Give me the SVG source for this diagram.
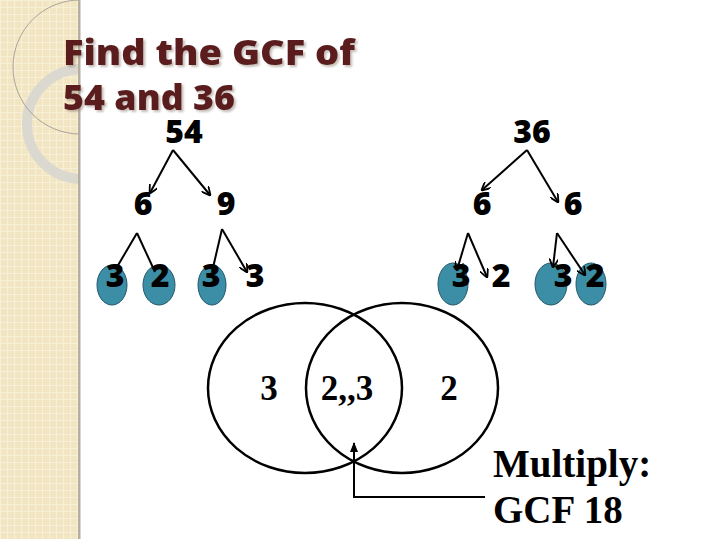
<svg xmlns="http://www.w3.org/2000/svg" width="720" height="539" viewBox="0 0 720 539">
<defs>
<pattern id="grid" width="7" height="7" patternUnits="userSpaceOnUse">
<rect width="7" height="7" fill="#f2e5c2"/>
<path d="M0 0.5H7M0.5 0V7" stroke="#f8efd9" stroke-width="1.2"/>
</pattern>
<clipPath id="strip"><rect x="0" y="0" width="80" height="539"/></clipPath>
<filter id="ts" x="-5%" y="-20%" width="110%" height="140%">
<feDropShadow dx="2" dy="2" stdDeviation="1" flood-color="#8a7a70" flood-opacity="0.5"/>
</filter>
<marker id="ah" viewBox="0 0 10 10" refX="9" refY="5" markerWidth="9" markerHeight="9" orient="auto" markerUnits="userSpaceOnUse">
<path d="M0 0L10 5L0 10" fill="none" stroke="#000" stroke-width="2"/>
</marker>
<marker id="up" viewBox="0 0 10 10" refX="9" refY="5" markerWidth="10" markerHeight="10" orient="auto" markerUnits="userSpaceOnUse">
<path d="M0 1L10 5L0 9z" fill="#000"/>
</marker>
</defs>
<style>
.title{font-family:"Open Sans","Lato",sans-serif;font-weight:800;font-size:35px;fill:#5a1c1c}
.num{font-family:"Open Sans","DejaVu Sans",sans-serif;font-weight:800;font-size:32px;fill:#000;text-anchor:middle}
.venn{font-family:"Liberation Serif","Times New Roman",serif;font-weight:bold;font-size:35px;fill:#000;text-anchor:middle}
.note{font-family:"Liberation Serif","Times New Roman",serif;font-weight:bold;font-size:39px;fill:#000}
.conn{stroke:#000;stroke-width:2;fill:none}
.oval{fill:#3b8ea6;stroke:#25596a;stroke-width:1}
.circ{fill:none;stroke:#000;stroke-width:2.5}
</style>
<rect width="720" height="539" fill="#ffffff"/>
<g id="sidebar">
<rect x="0" y="0" width="80" height="539" fill="url(#grid)"/>
<g clip-path="url(#strip)">
<circle cx="82" cy="124" r="55" fill="none" stroke="#dbd8d0" stroke-width="10"/>
<circle cx="80" cy="67" r="67" fill="none" stroke="#a9a49a" stroke-width="1"/>
</g>
<rect x="78" y="0" width="2.5" height="539" fill="#b5aea0"/>
</g>
<g id="title" filter="url(#ts)">
<text class="title" x="63" y="65" textLength="292" lengthAdjust="spacingAndGlyphs">Find the GCF of</text>
<text class="title" x="63" y="110" textLength="172" lengthAdjust="spacingAndGlyphs">54 and 36</text>
</g>
<g id="ovals">
<ellipse class="oval" cx="112" cy="285" rx="15" ry="20"/>
<ellipse class="oval" cx="159" cy="285" rx="16" ry="20"/>
<ellipse class="oval" cx="212" cy="285" rx="14" ry="20"/>
<ellipse class="oval" cx="453" cy="284" rx="15" ry="21"/>
<ellipse class="oval" cx="551" cy="284" rx="16" ry="21"/>
<ellipse class="oval" cx="591" cy="284" rx="15" ry="21"/>
</g>
<g id="connectors">
<path class="conn" d="M173 150L150 193" marker-end="url(#ah)"/>
<path class="conn" d="M173 150L210 195" marker-end="url(#ah)"/>
<path class="conn" d="M137 233L117 267"/>
<path class="conn" d="M137 233L155 272"/>
<path class="conn" d="M222 229L212 272"/>
<path class="conn" d="M222 229L247 272" marker-end="url(#ah)"/>
<path class="conn" d="M527 150L482 190" marker-end="url(#ah)"/>
<path class="conn" d="M527 150L558 202" marker-end="url(#ah)"/>
<path class="conn" d="M468 233L457 270" marker-end="url(#ah)"/>
<path class="conn" d="M468 233L487 277" marker-end="url(#ah)"/>
<path class="conn" d="M557 233L553 267" marker-end="url(#ah)"/>
<path class="conn" d="M557 233L585 275" marker-end="url(#ah)"/>
<path class="conn" d="M485 497H354V443" marker-end="url(#up)"/>
</g>
<g id="tree54">
<text class="num" x="184" y="143">54</text>
<text class="num" x="143" y="215">6</text>
<text class="num" x="226" y="215">9</text>
<text class="num" x="115" y="287">3</text>
<text class="num" x="160" y="287">2</text>
<text class="num" x="211" y="287">3</text>
<text class="num" x="255" y="287">3</text>
</g>
<g id="tree36">
<text class="num" x="532" y="143">36</text>
<text class="num" x="482" y="215">6</text>
<text class="num" x="573" y="215">6</text>
<text class="num" x="461" y="287">3</text>
<text class="num" x="501" y="287">2</text>
<text class="num" x="563" y="287">3</text>
<text class="num" x="595" y="287">2</text>
</g>
<g id="venn">
<ellipse class="circ" cx="305" cy="388" rx="97" ry="85"/>
<ellipse class="circ" cx="402" cy="388" rx="96" ry="85"/>
<text class="venn" x="269" y="400">3</text>
<text class="venn" x="347" y="400">2,,3</text>
<text class="venn" x="449" y="400">2</text>
</g>
<g id="result">
<text class="note" x="493" y="477">Multiply:</text>
<text class="note" x="493" y="523">GCF 18</text>
</g>
</svg>
